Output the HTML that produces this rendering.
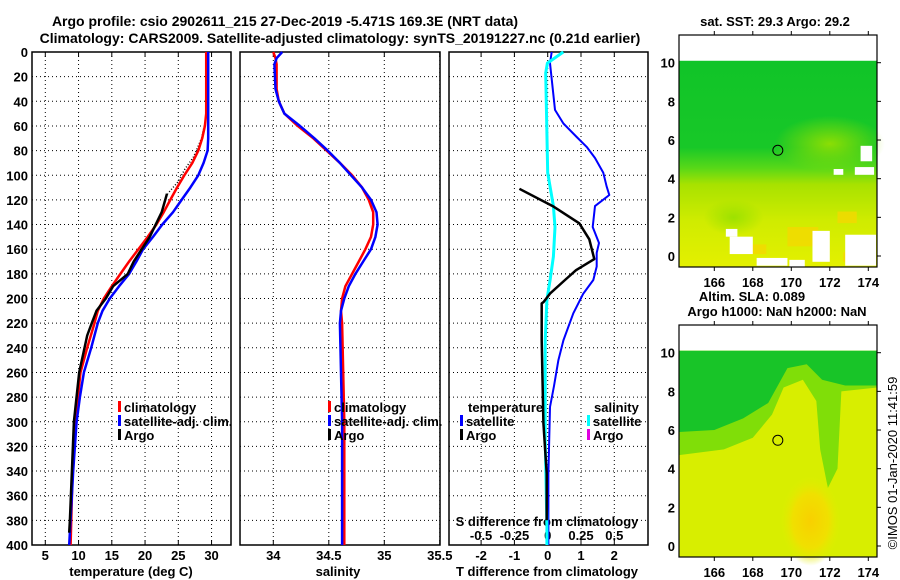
<!DOCTYPE html>
<html><head><meta charset="utf-8"><style>
html,body{margin:0;padding:0;background:#fff}
svg{display:block;font-family:"Liberation Sans",sans-serif;font-weight:bold}
</style></head><body>
<svg id="c" width="900" height="580" viewBox="0 0 900 580">
<defs>
<linearGradient id="sstg" x1="0" y1="0" x2="0" y2="1">
<stop offset="0" stop-color="#10c428"/><stop offset="0.42" stop-color="#18c828"/>
<stop offset="0.52" stop-color="#58d818"/><stop offset="0.6" stop-color="#a8e200"/>
<stop offset="0.78" stop-color="#d0ec00"/><stop offset="1" stop-color="#e4f000"/></linearGradient>
<radialGradient id="lg" cx="0.5" cy="0.5" r="0.5">
<stop offset="0" stop-color="#98e000" stop-opacity="0.9"/><stop offset="1" stop-color="#98e000" stop-opacity="0"/></radialGradient>
<radialGradient id="blob" cx="0.5" cy="0.5" r="0.5">
<stop offset="0" stop-color="#f8d000"/><stop offset="0.6" stop-color="#f0e000"/><stop offset="1" stop-color="#e0ee00" stop-opacity="0"/></radialGradient>
</defs>
<g id="root"></g>
</svg>
<script>
// ---- data ----
const depthsClim=[0,50,60,70,80,90,100,110,120,130,140,150,160,170,180,190,200,210,220,240,260,280,300,340,400];
const tempClim=[29.2,29.2,29.0,28.6,28.0,27.1,25.9,24.8,23.8,22.8,21.7,20.4,19.0,17.6,16.3,15.0,13.8,12.9,12.4,11.3,10.3,9.9,9.5,9.1,8.8];
const tempSat=[29.5,29.5,29.5,29.5,29.4,28.8,28.0,26.8,25.5,24.2,22.6,21.2,19.7,18.7,17.6,16.1,14.7,13.6,12.9,11.9,10.8,10.2,9.7,9.2,8.6];
const depthsArgo=[115,130,150,170,180,190,200,210,220,230,260,300,340,380,390];
const tempArgo=[23.3,22.5,20.7,18.3,17.4,15.2,14.1,12.7,12.0,11.3,10.1,9.3,9.0,8.7,8.6];
const depthsArgoShallow=[55,70,85,95,105,115];
const tempArgoShallow=[29.1,28.5,27.3,26.0,25.0,23.4];
const salClim=[34.0,34.02,34.03,34.03,34.05,34.10,34.22,34.36,34.48,34.60,34.71,34.80,34.86,34.90,34.90,34.88,34.83,34.77,34.71,34.65,34.62,34.61,34.62,34.63,34.64,34.64];
const salSat=[34.08,34.03,34.01,34.02,34.05,34.10,34.24,34.37,34.49,34.60,34.70,34.80,34.88,34.93,34.94,34.92,34.88,34.81,34.74,34.68,34.64,34.61,34.60,34.61,34.62,34.62];
const depthsSal=[0,5,10,30,40,50,60,70,80,90,100,110,120,130,140,150,160,170,180,190,200,210,220,260,300,400];
const depthsDT=[0,9,47,58,69,77,86,98,109,116,125,142,155,163,174,185,196,212,234,250,271,288,342,400];
const dTsat=[0.12,0.07,0.22,0.47,0.87,1.17,1.42,1.67,1.77,1.85,1.42,1.35,1.54,1.47,1.47,1.37,1.07,0.77,0.47,0.32,0.19,0.07,0.02,0.02];
const depthsDTargo=[111,125,139,152,168,177,185,196,203,204,234,301,342,380];
const dTargo=[-0.85,0.15,0.95,1.25,1.40,0.85,0.52,0.07,-0.13,-0.18,-0.18,-0.13,-0.03,-0.03];
const depthsDS=[0,9,17,98,125,142,166,185,201,234,314,385,400];
const dSsat=[0.117,-0.002,-0.015,0.0,0.043,0.055,0.043,0.018,-0.006,-0.019,-0.019,-0.006,-0.006];
const depthTicks=[0,20,40,60,80,100,120,140,160,180,200,220,240,260,280,300,320,340,360,380,400];
const tTicks=[5,10,15,20,25,30];
const sTicks=[34,34.5,35,35.5];
const sTickLabels=["34","34.5","35","35.5"];
const dTTicks=[-2,-1,0,1,2];
const dSTicks=[-0.5,-0.25,0,0.25,0.5];
const latTicks=[0,2,4,6,8,10];
const lonTicks=[166,168,170,172,174];

// ---- scales ----
const Y=d=>52+d*1.2325;
const XT=t=>45.3+(t-5)*6.65;
const XS=s=>273.3+(s-34)*111;
const XD=t=>547.7+t*33.3;
const XDS=s=>547.7+s*133.2;
const NS='http://www.w3.org/2000/svg';
const root=document.getElementById('root');
function mk(tag,attrs,parent){const e=document.createElementNS(NS,tag);for(const k in attrs)e.setAttribute(k,attrs[k]);(parent||root).appendChild(e);return e;}
function txt(x,y,s,anchor,size,parent){const t=mk('text',{x:x,y:y,'text-anchor':anchor||'start','font-size':size||13,fill:'#000'},parent);t.textContent=s;return t;}
function line(xs,ds,fx,color,w,dash){let p='';for(let i=0;i<xs.length;i++)p+=(i?'L':'M')+fx(xs[i]).toFixed(1)+','+Y(ds[i]).toFixed(1);const a={d:p,fill:'none',stroke:color,'stroke-width':w,'stroke-linejoin':'round'};if(dash)a['stroke-dasharray']=dash;return mk('path',a);}

// title
let t1=txt(285,26,'Argo profile: csio 2902611_215 27-Dec-2019 -5.471S 169.3E (NRT data)','middle',14);


let t2=txt(340,43,'Climatology: CARS2009. Satellite-adjusted climatology: synTS_20191227.nc (0.21d earlier)','middle',14);



function panel(x0,x1,gx,name){
  const g=mk('g',{});
  
  
  gx.forEach(x=>{mk('line',{x1:x,x2:x,y1:52,y2:545,stroke:'#000','stroke-width':1,'stroke-dasharray':'1,3'},g);
    mk('line',{x1:x,x2:x,y1:52,y2:57,stroke:'#000'},g);mk('line',{x1:x,x2:x,y1:540,y2:545,stroke:'#000'},g);});
  depthTicks.forEach(d=>{if(d>0&&d<400)mk('line',{x1:x0,x2:x1,y1:Y(d),y2:Y(d),stroke:'#000','stroke-dasharray':'1,3'},g);});
  mk('rect',{x:x0,y:52,width:x1-x0,height:493,fill:'none',stroke:'#000','stroke-width':1.5},g);
  return g;
}
panel(32,231,tTicks.map(XT),'temperature-panel');
panel(240,440,sTicks.map(XS),'salinity-panel');
panel(449,648,dTTicks.map(XD),'difference-panel');

depthTicks.forEach(d=>{const t=txt(28,Y(d)+5,String(d),'end',13);});
tTicks.forEach(v=>{const t=txt(XT(v),560,String(v),'middle',13);});
sTicks.forEach((v,i)=>{const t=txt(XS(v),560,sTickLabels[i],'middle',13);});
dTTicks.forEach(v=>{const t=txt(XD(v),560,String(v),'middle',13);});
dSTicks.forEach(v=>{const t=txt(XDS(v),540,String(v),'middle',13);});
let a1=txt(131,576,'temperature (deg C)','middle',13);
let a2=txt(338,576,'salinity','middle',13);
let a3=txt(547,576,'T difference from climatology','middle',13);
let a4=txt(547,526,'S difference from climatology','middle',13);

// series
let p;
p=line(tempArgoShallow,depthsArgoShallow,XT,'#000',1.5,'1,2');
p=line(tempClim,depthsClim,XT,'#f00',2.5);
p=line(tempSat,depthsClim,XT,'#00f',2.5);
p=line(tempArgo,depthsArgo,XT,'#000',2.5);
p=line(salClim,depthsSal,XS,'#f00',2.5);
p=line(salSat,depthsSal,XS,'#00f',2.5);
p=line(dTsat,depthsDT,XD,'#00f',2);
p=line(dSsat,depthsDS,XDS,'#0ff',3);
p=line(dTargo,depthsDTargo,XD,'#000',2.5);

function legend(x,y,color,label,name){const g=mk('g',{});
  mk('rect',{x:x,y:y-11,width:3,height:11,fill:color},g);txt(x+6,y,label,'start',13,g);}
legend(118,412,'#f00','climatology','legend-climatology-t');
legend(118,426,'#00f','satellite-adj. clim.','legend-satellite-t');
legend(118,440,'#000','Argo','legend-argo-t');
legend(328,412,'#f00','climatology','legend-climatology-s');
legend(328,426,'#00f','satellite-adj. clim.','legend-satellite-s');
legend(328,440,'#000','Argo','legend-argo-s');
let lt=txt(468,412,'temperature','start',13);
legend(460,426,'#00f','satellite','legend-t-satellite');
legend(460,440,'#000','Argo','legend-t-argo');
let ls=txt(594,412,'salinity','start',13);
legend(587,426,'#0ff','satellite','legend-s-satellite');
legend(587,440,'#e000e0','Argo','legend-s-argo');

// maps
function map(top,kind,name){
  const latY=la=>top+221-la*19.33, lonX=l=>714.3+(l-166)*19.25;
  const g=mk('g',{});
  const bx=679,bw=198,by=top,bh=232;
  mk('rect',{x:bx,y:by,width:bw,height:bh,fill:'#fff'},g);
  if(kind==='sst'){
    mk('rect',{x:bx,y:latY(10.1),width:bw,height:latY(-0.57)-latY(10.1),fill:'url(#sstg)'},g);
    mk('ellipse',{cx:lonX(172),cy:latY(5.8),rx:55,ry:28,fill:'url(#lg)'},g);
    mk('ellipse',{cx:lonX(167),cy:latY(2),rx:30,ry:18,fill:'url(#lg)'},g);
    [[169.8,1.5,1.6,1.0],[172.4,2.3,1,0.6],[167.5,0.6,1.2,0.5],[172.7,0.2,0.7,0.5]].forEach(r=>mk('rect',{x:lonX(r[0]),y:latY(r[1]),width:r[2]*19.25,height:r[3]*19.33,fill:'#f4d800',opacity:0.8},g));
    [[166.6,1.4,0.6,0.4],[166.8,1.0,1.2,0.9],[168.2,-0.1,1.6,0.4],[169.9,-0.2,0.8,0.8],[171.1,1.3,0.9,1.6],[172.8,1.1,1.6,1.6],[173.6,5.7,0.6,0.8],[172.2,4.5,0.5,0.3],[173.3,4.6,1,0.4]].forEach(r=>mk('rect',{x:lonX(r[0]),y:latY(r[1]),width:r[2]*19.25,height:r[3]*19.33,fill:'#fff'},g));
  } else {
    mk('rect',{x:bx,y:latY(10.1),width:bw,height:latY(-0.57)-latY(10.1),fill:'#d8ee00'},g);
    mk('path',{d:`M${bx},${latY(10.1)}H${bx+bw}V${latY(8.2)}L${lonX(172.6)},${latY(8)}L${lonX(172.4)},${latY(4)}L${lonX(171.9)},${latY(3)}L${lonX(171.5)},${latY(5)}L${lonX(171.3)},${latY(7.5)}L${lonX(170.6)},${latY(8.6)}L${lonX(169.6)},${latY(8.2)}L${lonX(169)},${latY(6.8)}L${lonX(168)},${latY(5.6)}L${lonX(166.5)},${latY(5.0)}L${bx},${latY(4.7)}Z`,fill:'#80de08'},g);
    mk('path',{d:`M${bx},${latY(10.1)}H${bx+bw}V${latY(8.3)}L${lonX(172.8)},${latY(8.3)}L${lonX(171.6)},${latY(8.6)}L${lonX(170.8)},${latY(9.4)}L${lonX(169.8)},${latY(9.2)}L${lonX(168.8)},${latY(7.4)}L${lonX(167.5)},${latY(6.6)}L${lonX(166)},${latY(6.0)}L${bx},${latY(5.9)}Z`,fill:'#18c428'},g);
    mk('ellipse',{cx:lonX(171),cy:latY(1.3),rx:30,ry:45,fill:'url(#blob)'},g);
  }
  mk('circle',{cx:lonX(169.3),cy:latY(5.47),r:5,fill:'none',stroke:'#000','stroke-width':1},g);
  mk('rect',{x:bx,y:by,width:bw,height:bh,fill:'none',stroke:'#000','stroke-width':1.2},g);
  latTicks.forEach(la=>{mk('line',{x1:bx+bw,x2:bx+bw+4,y1:latY(la),y2:latY(la),stroke:'#000'},g);txt(675,latY(la)+5,String(la),'end',13,g);});
  lonTicks.forEach(l=>{mk('line',{x1:lonX(l),x2:lonX(l),y1:by,y2:by-4,stroke:'#000'},g);mk('line',{x1:lonX(l),x2:lonX(l),y1:by+bh,y2:by+bh+4,stroke:'#000'},g);txt(lonX(l),by+bh+20,String(l),'middle',13,g);});
}
map(35,'sst','sst-map');
map(325,'sla','sla-map');
let m1=txt(775,26,'sat. SST: 29.3 Argo: 29.2','middle',13);
let m2=txt(752,301,'Altim. SLA: 0.089','middle',13);
let m3=txt(777,316,'Argo h1000: NaN h2000: NaN','middle',13);
let cr=txt(0,0,'©IMOS 01-Jan-2020 11:41:59','middle',13);cr.setAttribute('transform','translate(897,463) rotate(-90)');cr.setAttribute('font-weight','normal');


</script>
</body></html>
